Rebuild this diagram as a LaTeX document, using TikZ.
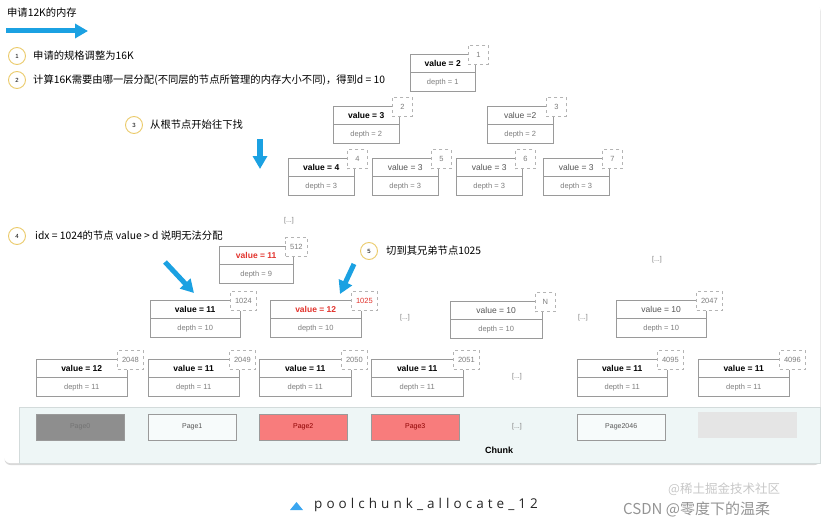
\documentclass[tikz,border=0pt]{standalone}
\usepackage{fontspec}
\setmainfont{Liberation Sans}
\newfontfamily\cjk{Noto Sans CJK SC}
\newfontfamily\capfont[LetterSpace=30]{Open Sans}
\usetikzlibrary{positioning,arrows.meta,shadows}
\definecolor{arrowblue}{HTML}{1BA1E2}
\definecolor{capblue}{HTML}{3BA6F0}
\definecolor{cellline}{HTML}{9A9A9A}
\definecolor{idxline}{HTML}{B4B4B4}
\definecolor{deptext}{HTML}{7E7E7E}
\definecolor{plaintext}{HTML}{555555}
\definecolor{hotred}{HTML}{E2332D}
\definecolor{stepring}{HTML}{EBCB6B}
\definecolor{chunkbg}{HTML}{EEF6F6}
\definecolor{chunkline}{HTML}{D3DBDB}
\definecolor{pagered}{HTML}{F87C7C}
\definecolor{pagegray}{HTML}{8E8E8E}

\begin{document}
\begin{tikzpicture}[x=1pt,y=-1pt]
\tikzset{valcell/.style = {draw=cellline, fill=white, minimum width=#1, minimum height=18pt, inner sep=0pt, font=\fontsize{8.5}{9}\selectfont, anchor=north west}}
\tikzset{depcell/.style = {draw=cellline, fill=white, minimum width=#1, minimum height=19pt, inner sep=0pt, text=deptext, font=\fontsize{7.5}{8}\selectfont}}
\tikzset{idxbox/.style = {draw=idxline, dashed, fill=white, minimum width=20pt, minimum height=19pt, inner xsep=4.5pt, inner ysep=0pt, text=deptext, font=\fontsize{7.5}{8}\selectfont, xshift=3pt, yshift=-1pt}}
\tikzset{stepno/.style = {circle, draw=stepring, line width=0.9pt, fill=white, minimum size=17pt, inner sep=0pt, font=\fontsize{6}{6}\selectfont}}
\tikzset{steptext/.style = {anchor=west, inner sep=0pt, font=\cjk\fontsize{10.3}{12}\selectfont}}
\tikzset{bigarrow/.style = {arrowblue, line width=5pt, -{Triangle[length=13pt,width=14pt]}}}
\tikzset{dots/.style = {text=deptext, inner sep=1pt, font=\fontsize{7}{8}\selectfont}}
\tikzset{page/.style = {draw=cellline, minimum width=88pt, minimum height=26pt, inner sep=0pt, anchor=north west, font=\fontsize{7}{8}\selectfont}}
\useasboundingbox (0,0) rectangle (829,524);

% card and chunk band
\fill[white, rounded corners=6pt, drop shadow={opacity=0.3, shadow xshift=0.5pt, shadow yshift=-2pt}] (4,3) rectangle (820,463);
\draw[chunkline, fill=chunkbg] (19,407) -- (820,407) -- (820,463) -- (19,463) -- cycle;

% steps
\node[anchor=west, inner sep=0pt, font=\cjk\fontsize{10.3}{12}\selectfont] (title) at (7,13) {申请12K的内存};
\coordinate (ta) at (6,31);
\coordinate (tb) at (88,31);
\draw[bigarrow] (ta) -- (tb);

\node[stepno] (s1) at (17,56) {1};
\node[steptext] (t1) at (33,56) {申请的规格调整为16K};
\node[stepno] (s2) at (17,80) {2};
\node[steptext] (t2) at (33,80) {计算16K需要由哪一层分配(不同层的节点所管理的内存大小不同)，得到d = 10};
\node[stepno] (s3) at (134,125) {3};
\node[steptext] (t3) at (150,125) {从根节点开始往下找};
\node[stepno] (s4) at (17,236) {4};
\node[steptext] (t4) at (35,236) {idx = 1024的节点 value > d 说明无法分配};
\node[stepno] (s5) at (369,251) {5};
\node[steptext] (t5) at (386,251) {切到其兄弟节点1025};

\coordinate (da) at (260,139);
\coordinate (db) at (260,169);
\draw[bigarrow, line width=6pt] (da) -- (db);
\coordinate (la) at (165,262);
\coordinate (lb) at (194,293);
\draw[bigarrow] (la) -- (lb);
\coordinate (ra) at (354,264);
\coordinate (rb) at (340,294);
\draw[bigarrow] (ra) -- (rb);

% depth 1..3
\node[valcell=65pt] (v1) at (410,54) {\textbf{value = 2}};
\node[depcell=65pt, below=0pt of v1] (d1) {depth = 1};
\node[idxbox] (i1) at (v1.north east) {1};

\node[valcell=66pt] (v2) at (333,106) {\textbf{value = 3}};
\node[depcell=66pt, below=0pt of v2] (d2) {depth = 2};
\node[idxbox] (i2) at (v2.north east) {2};
\node[valcell=66pt, text=plaintext] (v3) at (487,106) {value =2};
\node[depcell=66pt, below=0pt of v3] (d3) {depth = 2};
\node[idxbox] (i3) at (v3.north east) {3};

\node[valcell=66pt] (v4) at (288,158) {\textbf{value = 4}};
\node[depcell=66pt, below=0pt of v4] (d4) {depth = 3};
\node[idxbox] (i4) at (v4.north east) {4};
\node[valcell=66pt, text=plaintext] (v5) at (372,158) {value = 3};
\node[depcell=66pt, below=0pt of v5] (d5) {depth = 3};
\node[idxbox] (i5) at (v5.north east) {5};
\node[valcell=66pt, text=plaintext] (v6) at (456,158) {value = 3};
\node[depcell=66pt, below=0pt of v6] (d6) {depth = 3};
\node[idxbox] (i6) at (v6.north east) {6};
\node[valcell=66pt, text=plaintext] (v7) at (543,158) {value = 3};
\node[depcell=66pt, below=0pt of v7] (d7) {depth = 3};
\node[idxbox] (i7) at (v7.north east) {7};

% depth 9
\node[dots] (e1) at (289,221) {[...]};
\node[valcell=74pt, text=hotred] (v512) at (219,246) {\textbf{value = 11}};
\node[depcell=74pt, below=0pt of v512] (d512) {depth = 9};
\node[idxbox] (i512) at (v512.north east) {512};
\node[dots] (e2) at (657,260) {[...]};

% depth 10
\node[valcell=90pt] (v1024) at (150,300) {\textbf{value = 11}};
\node[depcell=90pt, below=0pt of v1024] (d1024) {depth = 10};
\node[idxbox] (i1024) at (v1024.north east) {1024};
\node[valcell=91pt, text=hotred] (v1025) at (270,300) {\textbf{value = 12}};
\node[depcell=91pt, below=0pt of v1025] (d1025) {depth = 10};
\node[idxbox, text=hotred] (i1025) at (v1025.north east) {1025};
\node[dots] (e3) at (405,318) {[...]};
\node[valcell=92pt, text=plaintext] (vN) at (450,301) {value = 10};
\node[depcell=92pt, below=0pt of vN] (dN) {depth = 10};
\node[idxbox] (iN) at (vN.north east) {N};
\node[dots] (e4) at (583,318) {[...]};
\node[valcell=90pt, text=plaintext] (v2047) at (616,300) {value = 10};
\node[depcell=90pt, below=0pt of v2047] (d2047) {depth = 10};
\node[idxbox] (i2047) at (v2047.north east) {2047};

% depth 11
\node[valcell=91pt] (v2048) at (36,359) {\textbf{value = 12}};
\node[depcell=91pt, below=0pt of v2048] (d2048) {depth = 11};
\node[idxbox] (i2048) at (v2048.north east) {2048};
\node[valcell=91pt] (v2049) at (148,359) {\textbf{value = 11}};
\node[depcell=91pt, below=0pt of v2049] (d2049) {depth = 11};
\node[idxbox] (i2049) at (v2049.north east) {2049};
\node[valcell=92pt] (v2050) at (259,359) {\textbf{value = 11}};
\node[depcell=92pt, below=0pt of v2050] (d2050) {depth = 11};
\node[idxbox] (i2050) at (v2050.north east) {2050};
\node[valcell=92pt] (v2051) at (371,359) {\textbf{value = 11}};
\node[depcell=92pt, below=0pt of v2051] (d2051) {depth = 11};
\node[idxbox] (i2051) at (v2051.north east) {2051};
\node[dots] (e5) at (517,377) {[...]};
\node[valcell=90pt] (v4095) at (577,359) {\textbf{value = 11}};
\node[depcell=90pt, below=0pt of v4095] (d4095) {depth = 11};
\node[idxbox] (i4095) at (v4095.north east) {4095};
\node[valcell=91pt] (v4096) at (698,359) {\textbf{value = 11}};
\node[depcell=91pt, below=0pt of v4096] (d4096) {depth = 11};
\node[idxbox] (i4096) at (v4096.north east) {4096};

% pages
\node[page, fill=pagegray, text=black!55] (p0) at (36,414) {Page0};
\node[page, fill=white!55!chunkbg, text=plaintext] (p1) at (148,414) {Page1};
\node[page, fill=pagered, text=red!55!black] (p2) at (259,414) {Page2};
\node[page, fill=pagered, text=red!55!black] (p3) at (371,414) {Page3};
\node[dots] (e6) at (517,427) {[...]};
\node[page, fill=white!55!chunkbg, text=plaintext] (p2046) at (577,414) {Page2046};
\node[page, draw=none, fill=black!10, minimum width=99pt] (p2047) at (698,412) {};
\node[font=\bfseries\fontsize{9}{10}\selectfont] (chunk) at (499,450) {Chunk};

% caption
\fill[capblue] (290,510) -- (296.5,502) -- (303,510) -- cycle;
\node[anchor=west, inner sep=0pt, text=black!85, font=\capfont\fontsize{13.5}{15}\selectfont] (cap) at (314,505) {poolchunk\_allocate\_12};
\node[anchor=west, inner sep=0pt, text=black!22, font=\cjk\fontsize{12.5}{14}\selectfont] (wm2) at (668,489) {@稀土掘金技术社区};
\node[anchor=west, inner sep=0pt, text=black!42, font=\cjk\fontsize{15}{16}\selectfont] (wm) at (623,509) {CSDN @零度下的温柔};
\end{tikzpicture}
\end{document}
